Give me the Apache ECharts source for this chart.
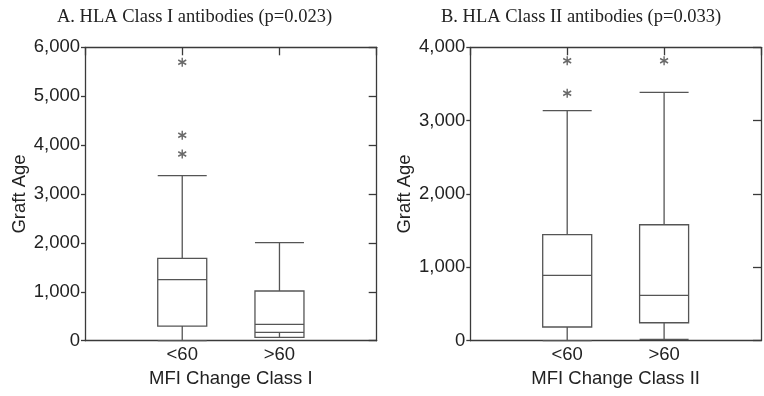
<!DOCTYPE html>
<html><head><meta charset="utf-8">
<script src="https://cdn.jsdelivr.net/npm/echarts@6/dist/echarts.min.js"></script>
<style>html,body{margin:0;padding:0;background:#fff}#c{width:764px;height:396px}</style>
</head><body><div id="c"></div>
<script>
// ---- data ----
const categories = ['<60', '>60'];
const titleA = 'A. HLA Class I antibodies (p=0.023)';
const titleB = 'B. HLA Class II antibodies (p=0.033)';
const xNameA = 'MFI Change Class I';
const xNameB = 'MFI Change Class II';
const yName = 'Graft Age';
// [min, Q1, median, Q3, max] per category
const boxA = [[0, 300, 1247, 1685, 3374], [172, 70, 335, 1016, 2004]];
const boxB = [[0, 187, 891, 1445, 3136], [19, 245, 619, 1581, 3386]];
// outliers: [categoryIndex, value]
const outA = [[0, 5693], [0, 4200], [0, 3818]];
const outB = [[0, 3817], [0, 3373], [1, 3817]];
const yTicksA = [0, 1000, 2000, 3000, 4000, 5000, 6000];
const yTicksB = [0, 1000, 2000, 3000, 4000];

// ---- chart ----
const ink = '#3a3a3a';
const boxInk = '#555';
const txt = '#222';
const sans = 'Liberation Sans, Arial, sans-serif';
const fs = 18.5;
const ast = 'path://M0,-5L0,5M-4.33,-2.5L4.33,2.5M-4.33,2.5L4.33,-2.5';

function axesFor(gi, xName, yTicks, ygap) {
  const xl = (v) => { const i = Math.round(v) - 1; return (i >= 0 && i < categories.length) ? categories[i] : ''; };
  const xs = [
    { gridIndex: gi, type: 'value', min: 0, max: categories.length + 1, interval: 1, position: 'bottom',
      axisLine: { show: true, onZero: false, lineStyle: { color: ink, width: 1.3 } },
      axisTick: { show: false }, splitLine: { show: false },
      axisLabel: { formatter: xl, color: txt, fontFamily: sans, fontSize: fs, margin: 5 },
      name: xName, nameLocation: 'middle', nameGap: 26,
      nameTextStyle: { color: txt, fontFamily: sans, fontSize: fs } },
    { gridIndex: gi, type: 'value', min: 0, max: categories.length + 1, interval: 1, position: 'top',
      axisLine: { show: true, onZero: false, lineStyle: { color: ink, width: 1.3 } },
      axisTick: { show: true, inside: true, length: 8, lineStyle: { color: ink, width: 1.3 } },
      axisLabel: { show: false }, splitLine: { show: false } }
  ];
  const ymax = yTicks[yTicks.length - 1];
  const ys = [
    { gridIndex: gi, type: 'value', min: yTicks[0], max: ymax, interval: yTicks[1] - yTicks[0], position: 'left',
      axisLine: { show: true, onZero: false, lineStyle: { color: ink, width: 1.3 } },
      axisTick: { show: true, inside: false, length: 4, lineStyle: { color: ink, width: 1.3 } },
      splitLine: { show: false },
      axisLabel: { formatter: (v) => v.toLocaleString('en-US'), color: txt, fontFamily: sans, fontSize: fs, margin: 5 },
      name: yName, nameLocation: 'middle', nameGap: ygap,
      nameTextStyle: { color: txt, fontFamily: sans, fontSize: fs } },
    { gridIndex: gi, type: 'value', min: yTicks[0], max: ymax, interval: yTicks[1] - yTicks[0], position: 'right',
      axisLine: { show: true, onZero: false, lineStyle: { color: ink, width: 1.3 } },
      axisTick: { show: true, inside: true, length: 8, lineStyle: { color: ink, width: 1.3 } },
      axisLabel: { show: false }, splitLine: { show: false } }
  ];
  return { xs, ys };
}
const a = axesFor(0, xNameA, yTicksA, 56);
const b = axesFor(1, xNameB, yTicksB, 56);

function boxSeries(box, xi, yi) {
  return { type: 'boxplot', xAxisIndex: xi, yAxisIndex: yi, silent: true,
    boxWidth: [49, 49],
    itemStyle: { color: '#fff', borderColor: boxInk, borderWidth: 1.3 },
    data: box.map((r, i) => [i + 1].concat(r)) };
}
function outSeries(out, xi, yi) {
  return { type: 'scatter', xAxisIndex: xi, yAxisIndex: yi, silent: true,
    symbol: ast, symbolSize: [8, 9],
    itemStyle: { color: 'none', borderColor: '#444', borderWidth: 1.5 },
    data: out.map((p) => [p[0] + 1, p[1]]) };
}

const chart = echarts.init(document.getElementById('c'), null, { renderer: 'canvas' });
chart.setOption({
  animation: false,
  backgroundColor: '#fff',
  title: [
    { text: titleA, left: 57, top: 8, padding: 0, textStyle: { fontFamily: 'Liberation Serif, Times New Roman, serif', fontWeight: 'normal', fontSize: fs, color: txt } },
    { text: titleB, left: 441, top: 8, padding: 0, textStyle: { fontFamily: 'Liberation Serif, Times New Roman, serif', fontWeight: 'normal', fontSize: fs, color: txt } }
  ],
  grid: [
    { left: 85, top: 47.3, width: 291.7, height: 293.4 },
    { left: 470.3, top: 47.3, width: 292.7, height: 293.4 }
  ],
  xAxis: a.xs.concat(b.xs),
  yAxis: a.ys.concat(b.ys),
  series: [
    boxSeries(boxA, 0, 0), outSeries(outA, 0, 0),
    boxSeries(boxB, 2, 2), outSeries(outB, 2, 2)
  ]
});
</script></body></html>
